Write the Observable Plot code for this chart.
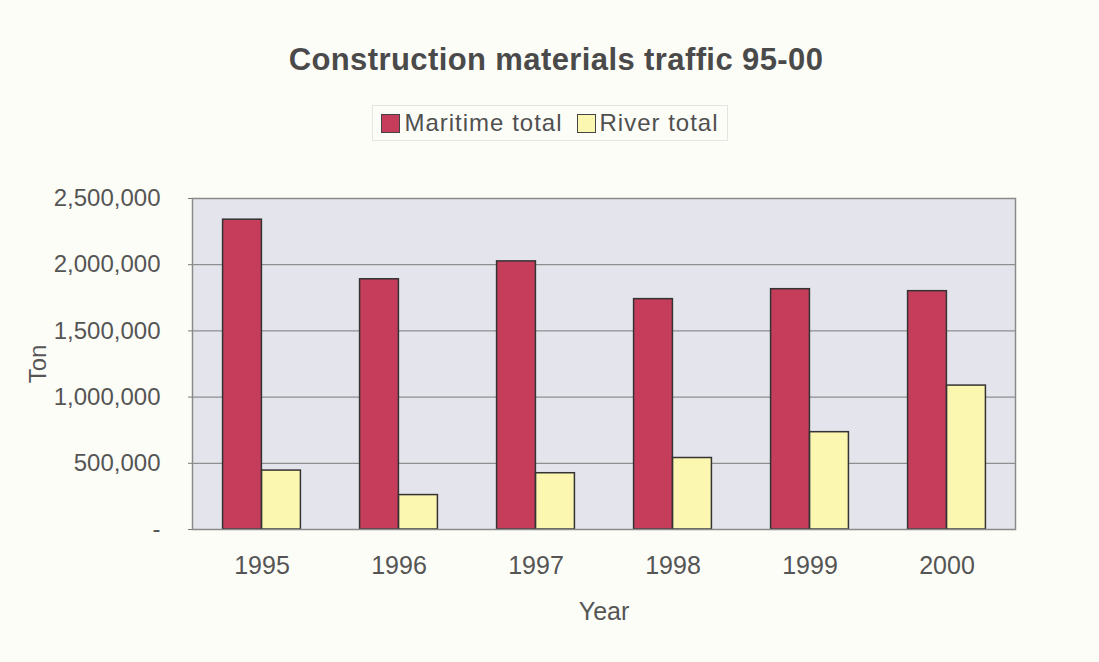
<!DOCTYPE html>
<html><head><meta charset="utf-8">
<script src="https://cdn.jsdelivr.net/npm/d3@7"></script>
<script src="https://cdn.jsdelivr.net/npm/@observablehq/plot@0.6"></script>
<style>
body{margin:0;background:#fdfdf8;font-family:"Liberation Sans",Arial,sans-serif;}
#wrap{width:1099px;height:662px;position:relative;overflow:hidden;background:#fdfdf8}
#title{position:absolute;top:41px;left:0;width:1112px;text-align:center;font-weight:bold;font-size:31px;letter-spacing:0.4px;color:#4a4a4a;line-height:38px}
#legend{position:absolute;top:105px;left:372px;width:356px;height:36px;border:1px solid #e4e4e4;box-sizing:border-box;display:flex;align-items:center;justify-content:center;gap:14px;font-size:24px;letter-spacing:1px;color:#505050}
.item{display:flex;align-items:center;gap:4px}
.sw{width:19px;height:19px;border:1.5px solid #444;box-sizing:border-box}
#chart{position:absolute;top:150px;left:0}
</style></head>
<body><div id="wrap">
<div id="title">Construction materials traffic 95-00</div>
<div id="legend"></div>
<div id="chart"></div>
</div>
<script>
const years = ["1995","1996","1997","1998","1999","2000"];
const maritime = [2340000, 1890000, 2025000, 1740000, 1815000, 1800000];
const river = [445000, 260000, 425000, 540000, 735000, 1087000];
const seriesNames = ["Maritime total", "River total"];
const seriesColors = ["#c63d5b", "#fcf7b0"];
const yTicks = [0, 500000, 1000000, 1500000, 2000000, 2500000];

const data = years.flatMap((y, i) => [
  {year: y, series: seriesNames[0], value: maritime[i]},
  {year: y, series: seriesNames[1], value: river[i]}
]);

const W = 1099, ML = 192, MR = 84;
const bw = (W - ML - MR) / years.length;
const barW = 39;

const fmt = d => d === 0 ? "-" : d3.format(",")(d);

const chart = Plot.plot({
  width: W, height: 512,
  marginLeft: ML, marginRight: MR, marginTop: 48, marginBottom: 133,
  style: {background: "transparent", fontFamily: "Liberation Sans, Arial, sans-serif", color: "#555"},
  x: {domain: years, padding: 0},
  y: {domain: [0, 2500000]},
  color: {domain: seriesNames, range: seriesColors},
  marks: [
    Plot.frame({fill: "#e4e4ec"}),
    Plot.gridY(yTicks, {stroke: "#7a7a7a", strokeOpacity: 1, strokeWidth: 1}),
    Plot.barY(data.filter(d => d.series === seriesNames[0]), {
      x: "year", y: "value", fill: "series", stroke: "#333", strokeWidth: 1.5,
      insetLeft: bw / 2 - barW, insetRight: bw / 2
    }),
    Plot.barY(data.filter(d => d.series === seriesNames[1]), {
      x: "year", y: "value", fill: "series", stroke: "#333", strokeWidth: 1.5,
      insetLeft: bw / 2, insetRight: bw / 2 - barW
    }),
    Plot.frame({stroke: "#8a8a8a", strokeWidth: 1.5}),
    Plot.axisY(yTicks, {tickFormat: fmt, tickSize: 4, tickPadding: 28, fontSize: 24, label: null, stroke: "#777", style: {letterSpacing: "0.5px"}}),
    Plot.axisX({tickSize: 0, tickPadding: 27, fontSize: 25, label: null}),
    Plot.text(["Ton"], {frameAnchor: "left", dx: -154, rotate: -90, textAnchor: "middle", fontSize: 24, fill: "#555"}),
    Plot.text(["Year"], {frameAnchor: "bottom", dy: 90, fontSize: 25, fill: "#555"})
  ]
});
document.getElementById("chart").appendChild(chart);

const legend = document.getElementById("legend");
seriesNames.forEach((name, i) => {
  const item = document.createElement("div");
  item.className = "item";
  const sw = document.createElement("div");
  sw.className = "sw";
  sw.style.background = seriesColors[i];
  const label = document.createElement("span");
  label.textContent = name;
  item.appendChild(sw); item.appendChild(label);
  legend.appendChild(item);
});
</script>
</body></html>
